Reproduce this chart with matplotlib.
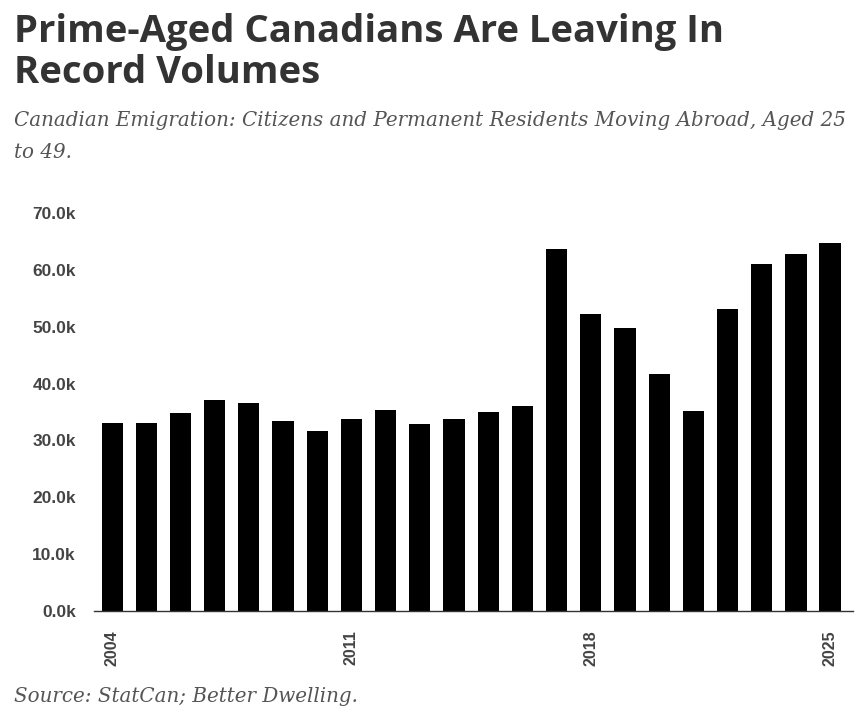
import matplotlib
matplotlib.use("Agg")
import matplotlib.pyplot as plt
import numpy as np

years = list(range(2004, 2026))
values = [33.1, 33.1, 34.8, 37.1, 36.6, 33.4, 31.7, 33.8, 35.4, 32.9, 33.8,
          35.0, 36.1, 63.7, 52.2, 49.8, 41.7, 35.2, 53.1, 61.0, 62.8, 64.7]
yticks = [0, 10, 20, 30, 40, 50, 60, 70]
xtick_years = [2004, 2011, 2018, 2025]

fig = plt.figure(figsize=(8.66, 7.2), dpi=100)
ax = fig.add_axes([94/866, 1-611/720, (853-94)/866, (611-213)/720])

x = np.arange(len(years))
ax.bar(x, values, width=0.62, color="black")
ax.set_xlim(-0.53, 21.67)
ax.set_ylim(0, 70)
ax.set_yticks(yticks)
ax.set_yticklabels([f"{v:.1f}k" for v in yticks])
ax.set_xticks([years.index(y) for y in xtick_years])
ax.set_xticklabels([str(y) for y in xtick_years], rotation=90)
for s in ["top", "right", "left"]:
    ax.spines[s].set_visible(False)
ax.spines["bottom"].set_color("#333333")
ax.spines["bottom"].set_linewidth(1.0)
ax.tick_params(axis="both", length=0, labelcolor="#444444")
ax.tick_params(axis="y", pad=13)
ax.tick_params(axis="x", pad=14)
for lab in ax.get_yticklabels():
    lab.set_fontfamily("Liberation Sans")
    lab.set_fontweight("bold")
    lab.set_fontsize(12.5)
for lab in ax.get_xticklabels():
    lab.set_fontfamily("Liberation Sans")
    lab.set_fontweight("bold")
    lab.set_fontsize(11.5)

fig.text(14/866, 1-32/720, "Prime-Aged Canadians Are Leaving In", fontsize=27.5,
         fontweight="bold", family="Open Sans", color="#333333", va="center")
fig.text(14/866, 1-73/720, "Record Volumes", fontsize=27.5,
         fontweight="bold", family="Open Sans", color="#333333", va="center")
fig.text(14/866, 1-120/720,
         "Canadian Emigration: Citizens and Permanent Residents Moving Abroad, Aged 25",
         fontsize=14.3, style="italic", family="DejaVu Serif", color="#555555", va="center")
fig.text(14/866, 1-152/720, "to 49.", fontsize=14.3, style="italic",
         family="DejaVu Serif", color="#555555", va="center")
fig.text(14/866, 1-697/720, "Source: StatCan; Better Dwelling.", fontsize=14.3,
         style="italic", family="DejaVu Serif", color="#555555", va="center")

fig.savefig("out.png", dpi=100)
